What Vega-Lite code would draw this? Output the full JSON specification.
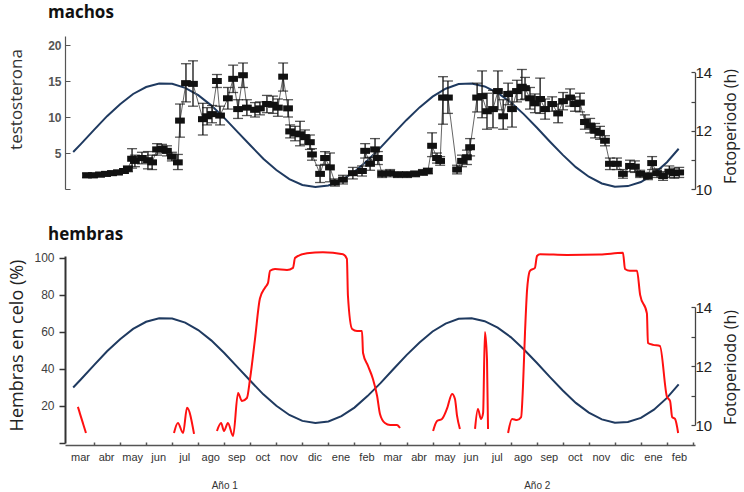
{
  "$schema": "https://vega.github.io/schema/vega-lite/v6.json",
  "background": "white",
  "padding": {"top": 4, "left": 7, "right": 8, "bottom": 0},
  "spacing": 29,
  "config": {
    "view": {"stroke": null},
    "axis": {"grid": false, "labelFont": "Liberation Sans", "titleFont": "Open Sans", "titleFontWeight": "normal"},
    "title": {"font": "Open Sans", "fontWeight": "bold", "fontSize": 17, "color": "#111", "anchor": "start", "frame": "group"}
  },
  "datasets": {
    "photo": [
      {"t": 0.2, "p": 11.27}, {"t": 0.5, "p": 11.55}, {"t": 1.0, "p": 12.03}, {"t": 1.5, "p": 12.5}, {"t": 2.0, "p": 12.91},
      {"t": 2.5, "p": 13.26}, {"t": 3.0, "p": 13.5}, {"t": 3.5, "p": 13.62}, {"t": 4.0, "p": 13.61}, {"t": 4.5, "p": 13.47},
      {"t": 5.0, "p": 13.22}, {"t": 5.5, "p": 12.87}, {"t": 6.0, "p": 12.44}, {"t": 6.5, "p": 11.97}, {"t": 7.0, "p": 11.5},
      {"t": 7.5, "p": 11.04}, {"t": 8.0, "p": 10.65}, {"t": 8.5, "p": 10.34}, {"t": 9.0, "p": 10.14}, {"t": 9.5, "p": 10.07},
      {"t": 10.0, "p": 10.12}, {"t": 10.5, "p": 10.3}, {"t": 11.0, "p": 10.59}, {"t": 11.5, "p": 10.98}, {"t": 12.0, "p": 11.42},
      {"t": 12.5, "p": 11.9}, {"t": 13.0, "p": 12.37}, {"t": 13.5, "p": 12.8}, {"t": 14.0, "p": 13.17}, {"t": 14.5, "p": 13.44},
      {"t": 15.0, "p": 13.6}, {"t": 15.5, "p": 13.62}, {"t": 16.0, "p": 13.52}, {"t": 16.5, "p": 13.3}, {"t": 17.0, "p": 12.98},
      {"t": 17.5, "p": 12.57}, {"t": 18.0, "p": 12.11}, {"t": 18.5, "p": 11.63}, {"t": 19.0, "p": 11.17}, {"t": 19.5, "p": 10.75},
      {"t": 20.0, "p": 10.42}, {"t": 20.5, "p": 10.19}, {"t": 21.0, "p": 10.08}, {"t": 21.5, "p": 10.1}, {"t": 22.0, "p": 10.24},
      {"t": 22.5, "p": 10.52}, {"t": 23.0, "p": 10.92}, {"t": 23.45, "p": 11.38}
    ],
    "testo": [
      {"t": 0.73, "v": 1.9, "lo": 1.6, "hi": 2.2}, {"t": 0.96, "v": 1.9, "lo": 1.6, "hi": 2.2}, {"t": 1.23, "v": 2.0, "lo": 1.7, "hi": 2.3},
      {"t": 1.46, "v": 2.1, "lo": 1.8, "hi": 2.4}, {"t": 1.69, "v": 2.2, "lo": 1.9, "hi": 2.5}, {"t": 1.92, "v": 2.3, "lo": 2.0, "hi": 2.6},
      {"t": 2.15, "v": 2.5, "lo": 2.2, "hi": 2.8}, {"t": 2.3, "v": 2.8, "lo": 2.4, "hi": 3.2}, {"t": 2.46, "v": 4.2, "lo": 2.9, "hi": 5.6},
      {"t": 2.57, "v": 3.9, "lo": 3.1, "hi": 4.7}, {"t": 2.84, "v": 4.3, "lo": 3.5, "hi": 5.1}, {"t": 3.07, "v": 4.0, "lo": 2.8, "hi": 5.2},
      {"t": 3.23, "v": 3.7, "lo": 2.7, "hi": 4.7}, {"t": 3.42, "v": 5.5, "lo": 4.7, "hi": 6.3}, {"t": 3.61, "v": 5.6, "lo": 5.0, "hi": 6.2},
      {"t": 3.8, "v": 5.3, "lo": 4.6, "hi": 6.0}, {"t": 3.99, "v": 4.5, "lo": 3.9, "hi": 5.1}, {"t": 4.22, "v": 3.7, "lo": 2.7, "hi": 4.8},
      {"t": 4.3, "v": 9.5, "lo": 7.2, "hi": 11.8}, {"t": 4.53, "v": 14.7, "lo": 12.1, "hi": 17.4}, {"t": 4.8, "v": 14.6, "lo": 11.5, "hi": 17.8},
      {"t": 5.18, "v": 9.7, "lo": 7.5, "hi": 11.9}, {"t": 5.34, "v": 10.1, "lo": 8.9, "hi": 11.3}, {"t": 5.53, "v": 10.4, "lo": 9.2, "hi": 11.6},
      {"t": 5.72, "v": 15.0, "lo": 14.1, "hi": 15.9}, {"t": 5.84, "v": 10.2, "lo": 8.9, "hi": 11.5}, {"t": 6.14, "v": 12.6, "lo": 11.1, "hi": 14.1},
      {"t": 6.34, "v": 15.3, "lo": 13.4, "hi": 17.2}, {"t": 6.53, "v": 11.1, "lo": 9.8, "hi": 12.4}, {"t": 6.72, "v": 15.8, "lo": 14.1, "hi": 17.5},
      {"t": 6.87, "v": 11.3, "lo": 10.2, "hi": 12.4}, {"t": 7.18, "v": 11.0, "lo": 10.0, "hi": 12.0}, {"t": 7.37, "v": 11.2, "lo": 10.3, "hi": 12.1},
      {"t": 7.64, "v": 11.8, "lo": 10.6, "hi": 13.0}, {"t": 7.87, "v": 11.7, "lo": 10.5, "hi": 12.9}, {"t": 8.06, "v": 11.3, "lo": 10.1, "hi": 12.5},
      {"t": 8.26, "v": 15.6, "lo": 13.6, "hi": 17.5}, {"t": 8.45, "v": 11.2, "lo": 10.0, "hi": 12.4}, {"t": 8.53, "v": 8.0, "lo": 7.1, "hi": 8.9},
      {"t": 8.72, "v": 7.7, "lo": 6.7, "hi": 8.7}, {"t": 8.91, "v": 7.6, "lo": 6.0, "hi": 9.4}, {"t": 9.1, "v": 7.2, "lo": 6.2, "hi": 8.2},
      {"t": 9.29, "v": 6.5, "lo": 5.5, "hi": 7.5}, {"t": 9.37, "v": 4.8, "lo": 4.0, "hi": 5.6}, {"t": 9.68, "v": 2.1, "lo": 0.9, "hi": 3.3},
      {"t": 9.87, "v": 4.3, "lo": 3.4, "hi": 5.2}, {"t": 10.06, "v": 3.0, "lo": 1.0, "hi": 5.0}, {"t": 10.25, "v": 0.9, "lo": 0.4, "hi": 1.4},
      {"t": 10.56, "v": 1.3, "lo": 0.7, "hi": 1.9}, {"t": 10.94, "v": 2.2, "lo": 1.4, "hi": 3.0}, {"t": 11.29, "v": 2.5, "lo": 1.8, "hi": 3.2},
      {"t": 11.41, "v": 5.3, "lo": 4.3, "hi": 6.3}, {"t": 11.6, "v": 3.5, "lo": 2.6, "hi": 4.4}, {"t": 11.79, "v": 5.5, "lo": 4.0, "hi": 7.0},
      {"t": 11.9, "v": 4.3, "lo": 3.4, "hi": 5.2}, {"t": 12.06, "v": 2.1, "lo": 1.6, "hi": 2.6}, {"t": 12.37, "v": 2.2, "lo": 1.7, "hi": 2.7},
      {"t": 12.67, "v": 2.0, "lo": 1.6, "hi": 2.4}, {"t": 13.02, "v": 2.0, "lo": 1.6, "hi": 2.4}, {"t": 13.33, "v": 2.1, "lo": 1.7, "hi": 2.5},
      {"t": 13.63, "v": 2.3, "lo": 1.9, "hi": 2.7}, {"t": 13.82, "v": 2.5, "lo": 2.1, "hi": 2.9}, {"t": 13.98, "v": 6.0, "lo": 4.5, "hi": 7.8},
      {"t": 14.17, "v": 4.3, "lo": 3.6, "hi": 5.0}, {"t": 14.29, "v": 3.9, "lo": 3.3, "hi": 4.5}, {"t": 14.4, "v": 12.7, "lo": 9.0, "hi": 15.6},
      {"t": 14.59, "v": 12.7, "lo": 10.5, "hi": 15.0}, {"t": 14.94, "v": 2.7, "lo": 2.1, "hi": 3.3}, {"t": 15.13, "v": 3.9, "lo": 3.1, "hi": 4.7},
      {"t": 15.32, "v": 4.4, "lo": 3.4, "hi": 5.4}, {"t": 15.44, "v": 5.8, "lo": 4.6, "hi": 7.0}, {"t": 15.71, "v": 12.7, "lo": 10.7, "hi": 14.7},
      {"t": 15.9, "v": 12.9, "lo": 9.9, "hi": 16.4}, {"t": 16.09, "v": 10.8, "lo": 8.3, "hi": 13.3}, {"t": 16.32, "v": 11.1, "lo": 8.5, "hi": 13.7},
      {"t": 16.51, "v": 13.6, "lo": 11.0, "hi": 16.4}, {"t": 16.71, "v": 10.1, "lo": 8.3, "hi": 12.4}, {"t": 16.9, "v": 13.2, "lo": 11.7, "hi": 14.7},
      {"t": 17.05, "v": 11.1, "lo": 8.6, "hi": 13.6}, {"t": 17.24, "v": 13.6, "lo": 12.1, "hi": 15.1}, {"t": 17.43, "v": 14.2, "lo": 12.4, "hi": 16.6},
      {"t": 17.55, "v": 14.0, "lo": 12.5, "hi": 15.5}, {"t": 17.74, "v": 12.6, "lo": 11.1, "hi": 14.1}, {"t": 17.93, "v": 11.9, "lo": 10.6, "hi": 13.2},
      {"t": 18.13, "v": 12.5, "lo": 10.5, "hi": 15.4}, {"t": 18.32, "v": 11.1, "lo": 9.7, "hi": 12.5}, {"t": 18.59, "v": 11.8, "lo": 10.8, "hi": 12.8},
      {"t": 18.82, "v": 10.5, "lo": 9.2, "hi": 11.8}, {"t": 19.01, "v": 12.2, "lo": 11.0, "hi": 13.4}, {"t": 19.28, "v": 12.7, "lo": 11.5, "hi": 13.9},
      {"t": 19.47, "v": 11.8, "lo": 10.8, "hi": 12.8}, {"t": 19.66, "v": 12.0, "lo": 10.7, "hi": 13.3}, {"t": 19.85, "v": 9.3, "lo": 8.3, "hi": 10.3},
      {"t": 20.05, "v": 8.8, "lo": 7.8, "hi": 9.8}, {"t": 20.24, "v": 8.1, "lo": 7.1, "hi": 9.1}, {"t": 20.43, "v": 7.8, "lo": 6.9, "hi": 8.7},
      {"t": 20.62, "v": 6.7, "lo": 6.0, "hi": 7.4}, {"t": 20.81, "v": 3.5, "lo": 2.7, "hi": 4.3}, {"t": 21.08, "v": 3.5, "lo": 2.7, "hi": 4.3},
      {"t": 21.31, "v": 2.1, "lo": 1.5, "hi": 2.7}, {"t": 21.58, "v": 3.2, "lo": 2.4, "hi": 4.0}, {"t": 21.77, "v": 3.1, "lo": 2.3, "hi": 3.9},
      {"t": 21.97, "v": 2.1, "lo": 1.6, "hi": 2.6}, {"t": 22.27, "v": 1.8, "lo": 1.3, "hi": 2.3}, {"t": 22.43, "v": 3.6, "lo": 2.7, "hi": 4.5},
      {"t": 22.62, "v": 2.2, "lo": 1.6, "hi": 2.8}, {"t": 22.85, "v": 1.8, "lo": 1.2, "hi": 2.4}, {"t": 23.09, "v": 2.4, "lo": 1.6, "hi": 3.2},
      {"t": 23.28, "v": 2.2, "lo": 1.5, "hi": 2.9}, {"t": 23.47, "v": 2.3, "lo": 1.6, "hi": 3.0}
    ],
    "celo": [
      {"s": 1, "t": 0.38, "c": 19.5}, {"s": 1, "t": 0.69, "c": 5.4},
      {"s": 2, "t": 4.07, "c": 5.4}, {"s": 2, "t": 4.22, "c": 10.8}, {"s": 2, "t": 4.42, "c": 5.4}, {"s": 2, "t": 4.57, "c": 19}, {"s": 2, "t": 4.84, "c": 4.9},
      {"s": 3, "t": 5.72, "c": 6.5}, {"s": 3, "t": 5.88, "c": 10.8}, {"s": 3, "t": 5.99, "c": 6.5}, {"s": 3, "t": 6.14, "c": 10.8}, {"s": 3, "t": 6.34, "c": 3.8},
      {"s": 3, "t": 6.53, "c": 27}, {"s": 3, "t": 6.68, "c": 22.7}, {"s": 3, "t": 6.87, "c": 24.3}, {"s": 3, "t": 6.99, "c": 34.6}, {"s": 3, "t": 7.18, "c": 56},
      {"s": 3, "t": 7.37, "c": 78}, {"s": 3, "t": 7.57, "c": 84}, {"s": 3, "t": 7.68, "c": 86.5}, {"s": 3, "t": 7.76, "c": 93}, {"s": 3, "t": 7.95, "c": 94},
      {"s": 3, "t": 8.41, "c": 93.5}, {"s": 3, "t": 8.64, "c": 94.6}, {"s": 3, "t": 8.72, "c": 100}, {"s": 3, "t": 9.18, "c": 102.5}, {"s": 3, "t": 9.79, "c": 103},
      {"s": 3, "t": 10.56, "c": 102}, {"s": 3, "t": 10.71, "c": 99.5}, {"s": 3, "t": 10.75, "c": 79.5}, {"s": 3, "t": 10.91, "c": 61.6}, {"s": 3, "t": 11.1, "c": 60.5},
      {"s": 3, "t": 11.29, "c": 60.5}, {"s": 3, "t": 11.33, "c": 48.6}, {"s": 3, "t": 11.52, "c": 41.6}, {"s": 3, "t": 11.71, "c": 34.6}, {"s": 3, "t": 11.87, "c": 25.4},
      {"s": 3, "t": 11.98, "c": 15.7}, {"s": 3, "t": 12.17, "c": 10.8}, {"s": 3, "t": 12.37, "c": 9.7}, {"s": 3, "t": 12.63, "c": 9.7}, {"s": 3, "t": 12.75, "c": 8.1},
      {"s": 4, "t": 14.02, "c": 6.5}, {"s": 4, "t": 14.17, "c": 11.9}, {"s": 4, "t": 14.36, "c": 13}, {"s": 4, "t": 14.55, "c": 18.4}, {"s": 4, "t": 14.75, "c": 26.5},
      {"s": 4, "t": 14.86, "c": 23.8}, {"s": 4, "t": 14.94, "c": 14.6}, {"s": 4, "t": 15.05, "c": 7.6},
      {"s": 5, "t": 15.63, "c": 7.6}, {"s": 5, "t": 15.74, "c": 18.4}, {"s": 5, "t": 15.86, "c": 13}, {"s": 5, "t": 15.94, "c": 16.2}, {"s": 5, "t": 16.01, "c": 60},
      {"s": 5, "t": 16.09, "c": 45}, {"s": 5, "t": 16.13, "c": 7.6},
      {"s": 6, "t": 16.9, "c": 5.4}, {"s": 6, "t": 17.05, "c": 13}, {"s": 6, "t": 17.24, "c": 12.4}, {"s": 6, "t": 17.4, "c": 14}, {"s": 6, "t": 17.47, "c": 30},
      {"s": 6, "t": 17.55, "c": 60}, {"s": 6, "t": 17.63, "c": 83}, {"s": 6, "t": 17.67, "c": 88.6}, {"s": 6, "t": 17.74, "c": 93}, {"s": 6, "t": 17.93, "c": 94.6},
      {"s": 6, "t": 18.01, "c": 101}, {"s": 6, "t": 18.13, "c": 102}, {"s": 6, "t": 19.16, "c": 101.6}, {"s": 6, "t": 20.43, "c": 101.8}, {"s": 6, "t": 21.31, "c": 102.7},
      {"s": 6, "t": 21.39, "c": 94}, {"s": 6, "t": 21.58, "c": 93}, {"s": 6, "t": 21.85, "c": 93}, {"s": 6, "t": 21.97, "c": 80}, {"s": 6, "t": 22.23, "c": 70},
      {"s": 6, "t": 22.27, "c": 54}, {"s": 6, "t": 22.47, "c": 53}, {"s": 6, "t": 22.73, "c": 52.4}, {"s": 6, "t": 23.0, "c": 25}, {"s": 6, "t": 23.12, "c": 22.7},
      {"s": 6, "t": 23.2, "c": 14}, {"s": 6, "t": 23.31, "c": 13}, {"s": 6, "t": 23.43, "c": 5.4}
    ]
  },
  "vconcat": [
    {
      "width": 630,
      "height": 153,
      "title": {"text": "machos", "dx": -17, "offset": 14},
      "layer": [
        {
          "data": {"name": "photo"},
          "mark": {"type": "line", "color": "#1f3a60", "strokeWidth": 2},
          "encoding": {
            "x": {"field": "t", "type": "quantitative", "scale": {"domain": [-0.115, 24.077], "nice": false, "zero": false}, "axis": null},
            "y": {"field": "p", "type": "quantitative", "scale": {"domain": [10, 15.25], "nice": false, "zero": false},
              "axis": {"orient": "right", "values": [10, 11, 12, 13, 14], "labelExpr": "datum.value % 2 == 0 ? datum.label : ''",
                "domainColor": "#444", "domainWidth": 1.3, "domainDash": [116.6, 300], "tickSize": -4, "tickColor": "#444", "tickWidth": 1.2,
                "labelPadding": 4, "labelFontSize": 15, "labelColor": "#222", "labelOverlap": false,
                "title": "Fotoperiodo (h)", "titleFontSize": 16, "titleColor": "#222", "titleAngle": 270, "titleBaseline": "top",
                "titleX": 27, "titleY": 90}}
          }
        },
        {
          "data": {"name": "testo"},
          "encoding": {
            "x": {"field": "t", "type": "quantitative", "axis": null}
          },
          "layer": [
            {
              "mark": {"type": "line", "color": "#666", "strokeWidth": 1},
              "encoding": {
                "y": {"field": "v", "type": "quantitative", "scale": {"domain": [0, 21.25], "nice": false},
                  "axis": {"orient": "left", "values": [0, 5, 10, 15, 20], "labelExpr": "datum.value == 0 ? '' : datum.label",
                    "domainColor": "#555", "domainWidth": 1.2, "tickColor": "#555", "tickSize": -5, "labelColor": "#555", "labelFontWeight": "bold",
                    "labelFontSize": 12, "labelPadding": 9, "labelOverlap": false, "title": "testosterona", "titleFontSize": 17, "titleColor": "#333",
                    "titlePadding": 22, "titleY": 63}}
              }
            },
            {
              "mark": {"type": "rule", "color": "#111", "strokeWidth": 1.3},
              "encoding": {
                "y": {"field": "lo", "type": "quantitative",
                  "axis": {"orient": "left", "values": [0, 5, 10, 15, 20], "labelExpr": "datum.value == 0 ? '' : datum.label",
                    "domainColor": "#555", "domainWidth": 1.2, "tickColor": "#555", "tickSize": -5, "labelColor": "#555", "labelFontWeight": "bold",
                    "labelFontSize": 12, "labelPadding": 9, "labelOverlap": false, "title": "testosterona", "titleFontSize": 17, "titleColor": "#333",
                    "titlePadding": 22, "titleY": 63}},
                "y2": {"field": "hi"}
              }
            },
            {
              "mark": {"type": "tick", "orient": "horizontal", "color": "#111", "size": 10, "thickness": 1.3},
              "encoding": {
                "y": {"field": "lo", "type": "quantitative",
                  "axis": {"orient": "left", "values": [0, 5, 10, 15, 20], "labelExpr": "datum.value == 0 ? '' : datum.label",
                    "domainColor": "#555", "domainWidth": 1.2, "tickColor": "#555", "tickSize": -5, "labelColor": "#555", "labelFontWeight": "bold",
                    "labelFontSize": 12, "labelPadding": 9, "labelOverlap": false, "title": "testosterona", "titleFontSize": 17, "titleColor": "#333",
                    "titlePadding": 22, "titleY": 63}}
              }
            },
            {
              "mark": {"type": "tick", "orient": "horizontal", "color": "#111", "size": 10, "thickness": 1.3},
              "encoding": {
                "y": {"field": "hi", "type": "quantitative",
                  "axis": {"orient": "left", "values": [0, 5, 10, 15, 20], "labelExpr": "datum.value == 0 ? '' : datum.label",
                    "domainColor": "#555", "domainWidth": 1.2, "tickColor": "#555", "tickSize": -5, "labelColor": "#555", "labelFontWeight": "bold",
                    "labelFontSize": 12, "labelPadding": 9, "labelOverlap": false, "title": "testosterona", "titleFontSize": 17, "titleColor": "#333",
                    "titlePadding": 22, "titleY": 63}}
              }
            },
            {
              "mark": {"type": "point", "shape": "M-1,-0.62H1V0.62H-1Z", "filled": true, "color": "#111", "opacity": 1, "size": 95},
              "encoding": {
                "y": {"field": "v", "type": "quantitative",
                  "axis": {"orient": "left", "values": [0, 5, 10, 15, 20], "labelExpr": "datum.value == 0 ? '' : datum.label",
                    "domainColor": "#555", "domainWidth": 1.2, "tickColor": "#555", "tickSize": -5, "labelColor": "#555", "labelFontWeight": "bold",
                    "labelFontSize": 12, "labelPadding": 9, "labelOverlap": false, "title": "testosterona", "titleFontSize": 17, "titleColor": "#333",
                    "titlePadding": 22, "titleY": 63}}
              }
            }
          ]
        }
      ],
      "resolve": {"scale": {"y": "independent"}, "axis": {"y": "independent"}}
    },
    {
      "width": 630,
      "height": 187,
      "title": {"text": "hembras", "dx": -17, "offset": 4},
      "layer": [
        {
          "data": {"name": "photo"},
          "mark": {"type": "line", "color": "#1f3a60", "strokeWidth": 2},
          "encoding": {
            "x": {"field": "t", "type": "quantitative", "scale": {"domain": [-0.115, 24.077], "nice": false, "zero": false},
              "axis": {"orient": "bottom", "values": [1, 2, 3, 4, 5, 6, 7, 8, 9, 10, 11, 12, 13, 14, 15, 16, 17, 18, 19, 20, 21, 22, 23, 24],
                "labelExpr": "['mar','abr','may','jun','jul','ago','sep','oct','nov','dic','ene','feb','mar','abr','may','jun','jul','ago','sep','oct','nov','dic','ene','feb'][datum.value - 1]",
                "labelOffset": -14, "labelFlush": false, "labelOverlap": false, "labelBound": false, "offset": 2,
                "domainColor": "#555", "domainWidth": 1.5, "tickColor": "#555", "tickSize": -3, "tickWidth": 1.5,
                "labelColor": "#333", "labelFontSize": 11, "labelPadding": 9, "title": null}},
            "y": {"field": "p", "type": "quantitative", "scale": {"domain": [9.39, 15.73], "nice": false, "zero": false},
              "axis": {"orient": "right", "values": [10, 11, 12, 13, 14], "labelExpr": "datum.value % 2 == 0 ? datum.label : ''",
                "domainColor": "#444", "domainWidth": 1.3, "domainDash": [0, 18, 118, 300], "tickSize": -4, "tickColor": "#444", "tickWidth": 1.2,
                "labelPadding": 4, "labelFontSize": 15, "labelColor": "#222", "labelOverlap": false,
                "title": "Fotoperiodo (h)", "titleFontSize": 16, "titleColor": "#222", "titleAngle": 270, "titleBaseline": "top",
                "titleX": 27, "titleY": 111}}
          }
        },
        {
          "data": {"name": "celo"},
          "mark": {"type": "line", "color": "#ff1010", "strokeWidth": 2, "interpolate": "monotone"},
          "encoding": {
            "x": {"field": "t", "type": "quantitative",
              "axis": {"orient": "bottom", "values": [6, 18], "labelExpr": "datum.value == 6 ? 'Año 1' : 'Año 2'", "ticks": false, "domain": false,
                "offset": 37, "labelPadding": 0, "labelFontSize": 10, "labelColor": "#333", "labelFlush": false, "title": null}},
            "y": {"field": "c", "type": "quantitative", "scale": {"domain": [0, 101], "nice": false},
              "axis": {"orient": "left", "values": [0, 20, 40, 60, 80, 100], "labelExpr": "datum.value == 0 ? '' : datum.label",
                "domainColor": "#333", "domainWidth": 2, "tickColor": "#333", "tickWidth": 1.5, "tickSize": 6, "labelColor": "#404040",
                "labelFontSize": 12, "labelPadding": 5, "labelOverlap": false, "title": "Hembras en celo (%)", "titleFontSize": 18, "titleColor": "#222",
                "titlePadding": 7, "titleY": 89}},
            "detail": {"field": "s", "type": "nominal"}
          }
        }
      ],
      "resolve": {"scale": {"y": "independent"}, "axis": {"x": "independent", "y": "independent"}}
    }
  ]
}
